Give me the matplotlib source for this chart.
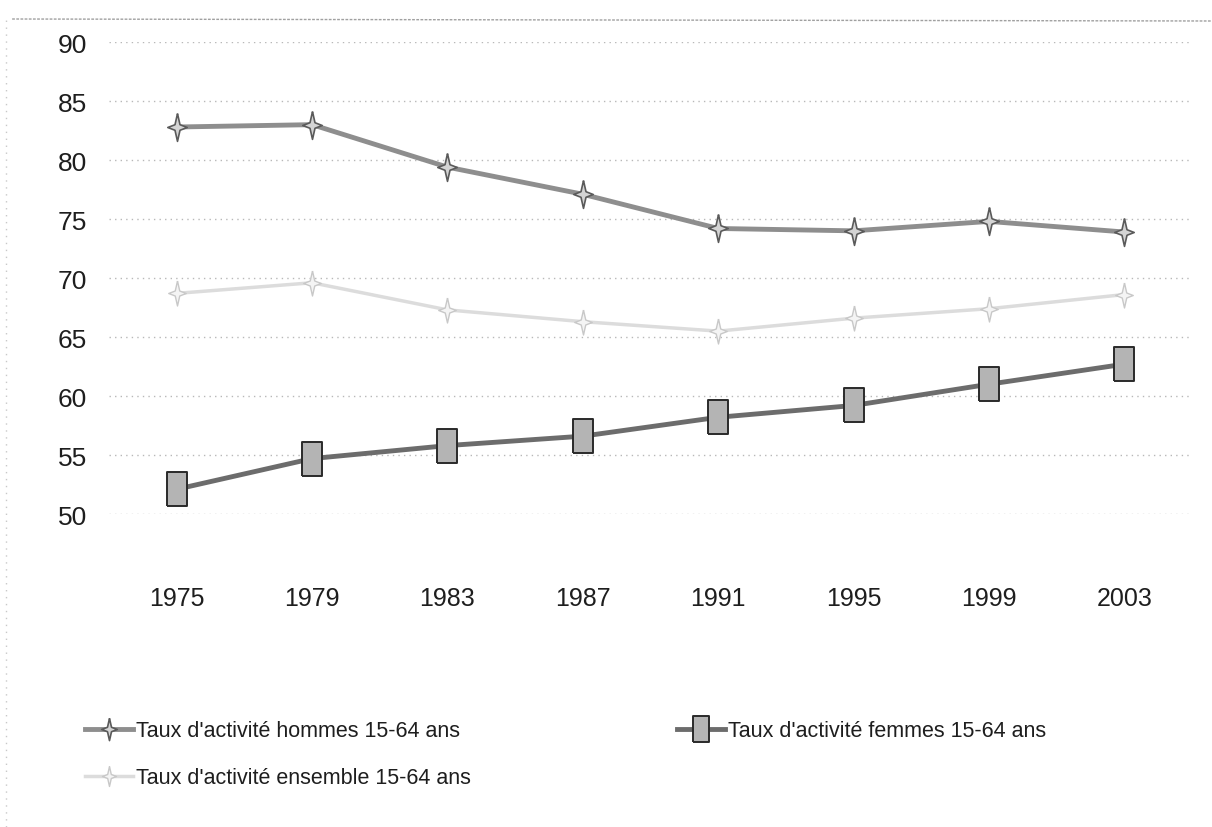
import matplotlib
matplotlib.use('Agg')
import matplotlib.pyplot as plt
from matplotlib.path import Path
from matplotlib.lines import Line2D

# data
years = ['1975', '1979', '1983', '1987', '1991', '1995', '1999', '2003']
hommes = [82.8, 83.0, 79.4, 77.1, 74.2, 74.0, 74.8, 73.9]
femmes = [52.1, 54.7, 55.8, 56.6, 58.2, 59.2, 61.0, 62.7]
ensemble = [68.7, 69.6, 67.3, 66.3, 65.5, 66.6, 67.4, 68.6]
y_ticks = [50, 55, 60, 65, 70, 75, 80, 85, 90]

label_h = "Taux d'activité hommes 15-64 ans"
label_f = "Taux d'activité femmes 15-64 ans"
label_e = "Taux d'activité ensemble 15-64 ans"

plt.rcParams['font.family'] = ['Liberation Sans', 'DejaVu Sans']

# scan is stretched vertically, so markers are taller than wide
star4 = Path([(0, 1), (0.18, 0.2), (0.7, 0), (0.18, -0.2), (0, -1),
              (-0.18, -0.2), (-0.7, 0), (-0.18, 0.2), (0, 1)])
rect = Path([(-0.6, -1), (0.6, -1), (0.6, 1), (-0.6, 1), (-0.6, -1)])

fig = plt.figure(figsize=(12.12, 8.28), dpi=100)
fig.patch.set_facecolor('white')
ax = fig.add_axes([0.090, 0.378, 0.8935, 0.570])

x = range(len(years))
ax.plot(x, ensemble, color='#dcdcdc', lw=2.5, marker=star4, markersize=18,
        markerfacecolor='#f4f4f4', markeredgecolor='#c8c8c8', markeredgewidth=1,
        label=label_e, zorder=3)
ax.plot(x, hommes, color='#8e8e8e', lw=3.5, marker=star4, markersize=20,
        markerfacecolor='#d4d4d4', markeredgecolor='#5a5a5a', markeredgewidth=1.2,
        label=label_h, zorder=4)
ax.plot(x, femmes, color='#6c6c6c', lw=3.5, marker=rect, markersize=24,
        markerfacecolor='#b4b4b4', markeredgecolor='#2a2a2a', markeredgewidth=1.4,
        label=label_f, zorder=5)

ax.set_xlim(-0.5, len(years) - 0.5)
ax.set_ylim(50, 90)
ax.set_yticks(y_ticks)
ax.set_yticklabels([str(v) for v in y_ticks])
ax.set_xticks(list(x))
ax.set_xticklabels(years)
ax.tick_params(axis='y', length=0, pad=16, labelsize=19, labelcolor='#1e1e1e')
ax.tick_params(axis='x', length=0, pad=52, labelsize=18, labelcolor='#1e1e1e')

for s in ax.spines.values():
    s.set_visible(False)
ax.grid(axis='y', color='#b8b8b8', linestyle=(0, (1, 3)), lw=1)
ax.set_axisbelow(True)

# legend: two groups like the original layout
hd, lb = ax.get_legend_handles_labels()
h = dict(zip(lb, hd))
leg1 = fig.legend([h[label_h], h[label_e]], [label_h, label_e],
                  loc='upper left', bbox_to_anchor=(66 / 1212, 1 - 702 / 828),
                  frameon=False, fontsize=15.5, handlelength=2.2, handletextpad=0.15,
                  labelspacing=1.2, markerscale=0.8, labelcolor='#1e1e1e')
leg2 = fig.legend([h[label_f]], [label_f],
                  loc='upper left', bbox_to_anchor=(658 / 1212, 1 - 702 / 828),
                  frameon=False, fontsize=15.5, handlelength=2.2, handletextpad=0.15,
                  markerscale=0.8, labelcolor='#1e1e1e')

# faint scan border
fig.add_artist(Line2D([0.01, 1.0], [1 - 20 / 828, 1 - 22 / 828], transform=fig.transFigure,
                      color='#a0a0a0', lw=1, linestyle=(0, (2, 1))))
fig.add_artist(Line2D([0.005, 0.005], [0.0, 1 - 20 / 828], transform=fig.transFigure,
                      color='#c8c8c8', lw=1, linestyle=(0, (1, 4))))

fig.savefig('out.png', dpi=100)
